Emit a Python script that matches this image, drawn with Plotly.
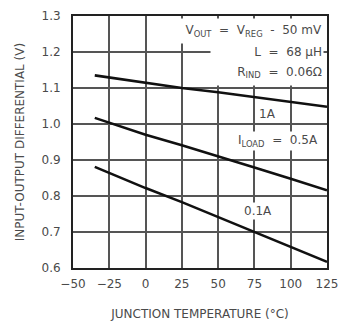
import plotly.graph_objects as go

temps = [-35, 0, 25, 50, 75, 100, 125]
v_1a = [1.135, 1.115, 1.100, 1.088, 1.075, 1.062, 1.048]
v_05a = [1.017, 0.970, 0.941, 0.911, 0.879, 0.848, 0.816]
v_01a = [0.881, 0.822, 0.783, 0.741, 0.700, 0.657, 0.617]

series = [("1A", v_1a), ("0.5A", v_05a), ("0.1A", v_01a)]

x_ticks = [-50, -25, 0, 25, 50, 75, 100, 125]
y_ticks = [0.6, 0.7, 0.8, 0.9, 1.0, 1.1, 1.2, 1.3]

font = "DejaVu Sans"
txtc = "#4a4a4a"
S = "\u00a0"

fig = go.Figure()
for name, vals in series:
    fig.add_trace(go.Scatter(x=temps, y=vals, mode="lines", name=name,
                             line=dict(color="#111", width=2.6), showlegend=False))

ann = [
    dict(x=123, y=1.259, w=156, h=22, text=f"V<sub>OUT</sub>{S}{S}={S}{S}V<sub>REG</sub>{S}{S}-{S}{S}50{S}mV", xanchor="right", align="right"),
    dict(x=123, y=1.200, w=110, h=20, text=f"L{S}{S}={S}{S}68{S}µH", xanchor="right", align="right"),
    dict(x=123, y=1.142, w=110, h=23, text=f"R<sub>IND</sub>{S}{S}={S}{S}0.06Ω", xanchor="right", align="right"),
    dict(x=84, y=1.027, w=None, h=None, text="1A", xanchor="center", align="center"),
    dict(x=91, y=0.952, w=None, h=None, text=f"I<sub>LOAD</sub>{S}{S}={S}{S}0.5A", xanchor="center", align="center"),
    dict(x=77.5, y=0.757, w=None, h=None, text="0.1A", xanchor="center", align="center"),
]
for a in ann:
    kw = {}
    if a["w"]:
        kw = dict(width=a["w"], height=a["h"], valign="middle")
    fig.add_annotation(x=a["x"], y=a["y"], text=a["text"], xanchor=a["xanchor"], align=a["align"],
                       yanchor="middle", showarrow=False, bgcolor="white", borderpad=1,
                       font=dict(family=font, size=12, color=txtc), **kw)

axis_common = dict(showgrid=True, gridcolor="#555555", gridwidth=2, showline=True,
                   linecolor="#222222", linewidth=2, mirror=True, ticks="",
                   zeroline=False,
                   tickfont=dict(family=font, size=12, color=txtc))

fig.update_layout(
    template="none",
    width=343, height=322, margin=dict(l=73, r=16, t=16, b=54),
    paper_bgcolor="white", plot_bgcolor="white",
    xaxis=dict(range=[-50, 125], tickvals=x_ticks, ticktext=[str(t).replace("-", "−") for t in x_ticks],
               ticklabelstandoff=4,
               title=dict(text="JUNCTION TEMPERATURE (°C)", font=dict(family=font, size=12, color=txtc), standoff=19),
               **axis_common),
    yaxis=dict(range=[0.6, 1.3], tickvals=y_ticks, ticktext=[f"{t:.1f}" for t in y_ticks],
               ticklabelstandoff=8,
               title=dict(text="INPUT-OUTPUT DIFFERENTIAL (V)", font=dict(family=font, size=12, color=txtc), standoff=14),
               **axis_common),
)

fig.write_html("out.html")
